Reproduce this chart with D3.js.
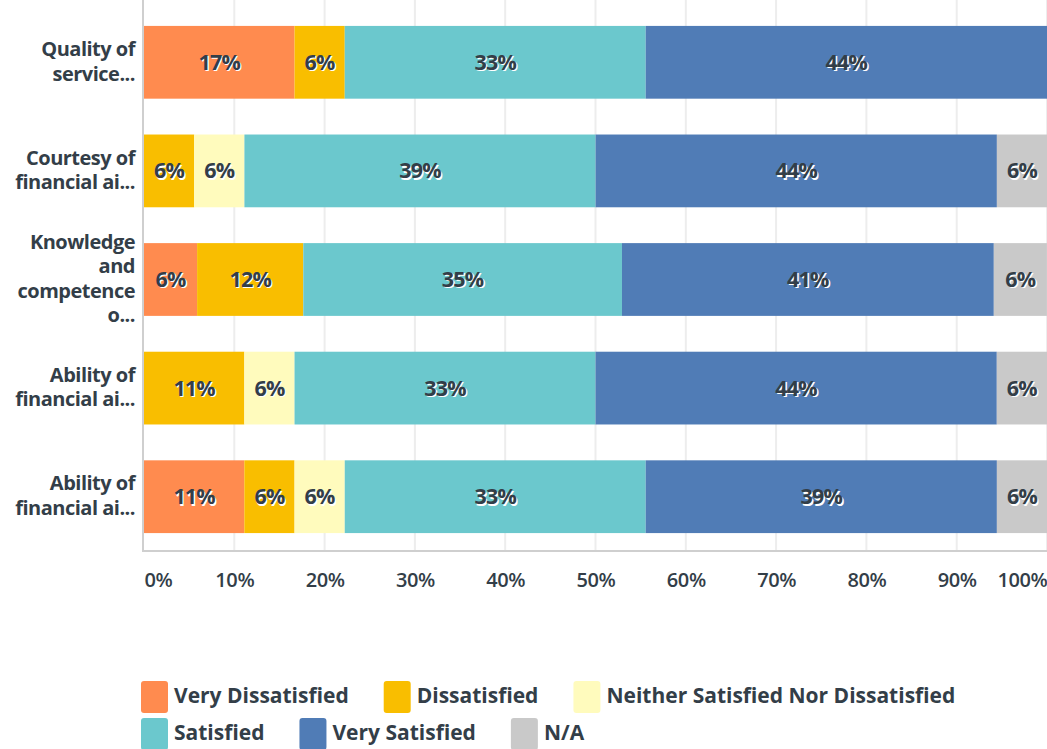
<!DOCTYPE html>
<html><head><meta charset="utf-8">
<script src="https://cdn.jsdelivr.net/npm/d3@7"></script>
<style>
body{margin:0;background:#fff;}
svg{display:block;font-family:"Open Sans","Noto Sans",sans-serif;}
</style></head>
<body><svg id="chart" width="1047" height="749"></svg>
<script>
const categories = ["Quality of service...", "Courtesy of financial ai...", "Knowledge and competence o...", "Ability of financial ai...", "Ability of financial ai... "];
const seriesNames = ["Very Dissatisfied", "Dissatisfied", "Neither Satisfied Nor Dissatisfied", "Satisfied", "Very Satisfied", "N/A"];
const seriesColors = ["#ff8b4f", "#f9be00", "#fffbbd", "#6bc8cd", "#507cb6", "#c9c9c9"];
const veryDissatisfied = [16.67, 0, 5.88, 0, 11.11];
const dissatisfied = [5.56, 5.56, 11.76, 11.11, 5.56];
const neither = [0, 5.56, 0, 5.56, 5.56];
const satisfied = [33.33, 38.89, 35.29, 33.33, 33.33];
const verySatisfied = [44.44, 44.44, 41.18, 44.44, 38.89];
const na = [0, 5.56, 5.88, 5.56, 5.56];
const tickValues = [0, 10, 20, 30, 40, 50, 60, 70, 80, 90, 100];
const tickLabels = ["0%", "10%", "20%", "30%", "40%", "50%", "60%", "70%", "80%", "90%", "100%"];

(function () {
const seriesValues = [veryDissatisfied, dissatisfied, neither, satisfied, verySatisfied, na];
const table = categories.map((c, i) => {
  const o = {cat: c};
  seriesNames.forEach((s, j) => o[s] = seriesValues[j][i]);
  return o;
});
const stacked = d3.stack().keys(seriesNames)(table);

const svg = d3.select("#chart");
const textColor = "#333e48";
const mLeft = 144, mRight = 1047, mTop = 0, mBottom = 551;
const x = d3.scaleLinear().domain([0, 100]).range([mLeft, mRight]);
const y = d3.scaleBand().domain(categories).range([8, mBottom]).paddingInner(0.33).paddingOuter(0.165);
const color = d3.scaleOrdinal().domain(seriesNames).range(seriesColors);

// grid
svg.append("g").selectAll("line").data(tickValues.slice(1)).join("line")
  .attr("x1", d => x(d)).attr("x2", d => x(d)).attr("y1", mTop).attr("y2", mBottom)
  .attr("stroke", "#ededed").attr("stroke-width", 2);

// bars
const layers = svg.append("g").selectAll("g").data(stacked).join("g")
  .attr("fill", d => color(d.key));
layers.selectAll("rect").data(d => d).join("rect")
  .attr("x", d => x(d[0])).attr("width", d => x(d[1]) - x(d[0]))
  .attr("y", d => y(d.data.cat)).attr("height", y.bandwidth());

// bar labels
const labelData = [];
stacked.forEach(layer => layer.forEach(d => {
  const v = d[1] - d[0];
  if (v > 0) labelData.push({cx: (x(d[0]) + x(d[1])) / 2, cy: y(d.data.cat) + y.bandwidth() / 2, t: Math.round(v) + "%"});
}));
const lg = svg.append("g").attr("font-size", 21.5).attr("font-weight", 700).attr("text-anchor", "middle");
lg.selectAll("text.sh").data(labelData).join("text").attr("class", "sh")
  .attr("x", d => d.cx + 1.4).attr("y", d => d.cy + 1.4).attr("dy", "0.35em").attr("fill", "#fff")
  .attr("letter-spacing", -0.8).text(d => d.t);
lg.selectAll("text.fg").data(labelData).join("text").attr("class", "fg")
  .attr("x", d => d.cx).attr("y", d => d.cy).attr("dy", "0.35em").attr("fill", textColor)
  .attr("letter-spacing", -0.8).text(d => d.t);

// axis lines
svg.append("line").attr("x1", mLeft - 1).attr("x2", mLeft - 1).attr("y1", mTop).attr("y2", mBottom + 1)
  .attr("stroke", "#cfcfcf").attr("stroke-width", 2);
svg.append("line").attr("x1", mLeft - 2).attr("x2", mRight).attr("y1", mBottom).attr("y2", mBottom)
  .attr("stroke", "#cfcfcf").attr("stroke-width", 2);

// x axis labels
const xAxis = d3.axisBottom(x).tickValues(tickValues).tickFormat((d, i) => tickLabels[i]).tickSize(0).tickPadding(0);
const xg = svg.append("g").attr("transform", `translate(0,${mBottom + 22})`).call(xAxis);
xg.select(".domain").remove();
xg.selectAll("text").attr("font-size", 20).attr("font-weight", 600).attr("fill", textColor)
  .attr("font-family", "'Open Sans', sans-serif").attr("letter-spacing", -0.4)
  .attr("text-anchor", (d, i) => i === 0 ? "start" : (i === tickValues.length - 1 ? "end" : "middle"));

// y labels (wrapped)
const yg = svg.append("g").attr("font-size", 20).attr("font-weight", 700).attr("fill", textColor)
  .attr("text-anchor", "end").attr("letter-spacing", -0.5);
const lineH = 24.5, maxW = 126;
categories.forEach(c => {
  const t = yg.append("text").attr("x", 135);
  const words = c.trim().split(/\s+/);
  const lines = []; let cur = [];
  const probe = yg.append("text").attr("visibility", "hidden");
  words.forEach(w => {
    const test = cur.concat([w]).join(" ");
    probe.text(test);
    if (cur.length && probe.node().getComputedTextLength() > maxW) { lines.push(cur.join(" ")); cur = [w]; }
    else cur.push(w);
  });
  lines.push(cur.join(" "));
  probe.remove();
  const cy = y(c) + y.bandwidth() / 2 - 1;
  const y0 = cy - (lines.length - 1) * lineH / 2;
  lines.forEach((l, i) => t.append("tspan").attr("x", 135).attr("y", y0 + i * lineH).attr("dy", "0.35em").text(l));
});

// legend
const legendRows = [[0, 1, 2], [3, 4, 5]];
const legend = svg.append("g").attr("font-size", 21).attr("font-weight", 700).attr("fill", textColor);
legendRows.forEach((row, r) => {
  let cx = 141;
  const cy = 696 + r * 37;
  row.forEach(k => {
    legend.append("rect").attr("x", cx).attr("y", cy - 15).attr("width", 27).attr("height", 32).attr("rx", 3)
      .attr("fill", seriesColors[k]);
    const t = legend.append("text").attr("x", cx + 33).attr("y", cy).attr("dy", "0.35em").text(seriesNames[k]);
    cx += 33 + t.node().getComputedTextLength() + 35;
  });
});
})();
</script></body></html>
